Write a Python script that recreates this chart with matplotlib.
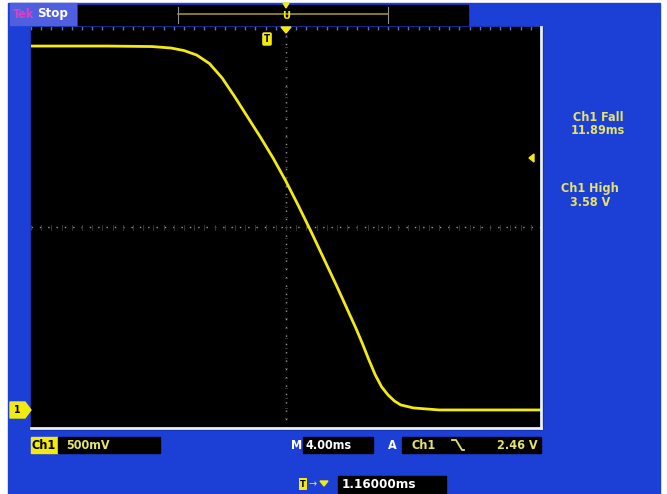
import numpy as np
import matplotlib
matplotlib.use("Agg")
import matplotlib.pyplot as plt
from matplotlib.patches import Rectangle, Polygon

# --- trace (time in ms relative to screen centre, volts) ---
t_ms = [-20.0, -14.0, -10.5, -9.0, -8.0, -7.0, -6.0, -5.0, -4.0, -3.0, -2.0,
        -1.0, 0.0, 1.0, 2.0, 3.0, 4.0, 5.0, 5.5, 6.0, 6.5, 7.0, 7.5, 8.0,
        8.5, 9.0, 10.0, 11.0, 12.0, 20.0]
volts = [3.63, 3.63, 3.625, 3.61, 3.585, 3.54, 3.455, 3.31, 3.12, 2.92, 2.72,
         2.51, 2.28, 2.03, 1.77, 1.50, 1.23, 0.95, 0.81, 0.66, 0.50, 0.35,
         0.23, 0.15, 0.09, 0.05, 0.02, 0.01, 0.0, 0.0]

v_per_div = 0.5
ms_per_div = 4.0
ground_div = 0.36          # ground marker height above bottom, in divisions
trig_level = 2.46

meas_labels = ["Ch1 Fall", "11.89ms", "Ch1 High", "3.58 V"]

BLUE = "#1c3fd6"
YEL = "#f2ea10"
TXT = "#e6e26a"

W, H = 667, 494
fig = plt.figure(figsize=(W / 100, H / 100), dpi=100, facecolor="white")

# background layer in pixel coords
bg = fig.add_axes([0, 0, 1, 1], zorder=0)
bg.set_xlim(0, W); bg.set_ylim(H, 0); bg.axis("off")
bg.add_patch(Rectangle((8, 3), 652, 491, color=BLUE))
bg.add_patch(Rectangle((10, 3), 66, 22, color="#4f5fe0"))      # Tek Stop tab
bg.add_patch(Rectangle((78, 5), 390, 20, color="black"))       # record bar
bg.add_patch(Rectangle((31, 27), 511, 402, color="black"))

# scope grid area
x0, y0, x1, y1 = 31, 27, 541, 428
ax = fig.add_axes([x0 / W, 1 - y1 / H, (x1 - x0) / W, (y1 - y0) / H], zorder=1)
ax.set_facecolor("black")
vmin = -ground_div * v_per_div
vmax = vmin + 8 * v_per_div
ax.set_xlim(-5 * ms_per_div, 5 * ms_per_div)
ax.set_ylim(vmin, vmax)
for s in ax.spines.values():
    s.set_visible(False)
ax.spines["right"].set_visible(True); ax.spines["right"].set_color("#e8f0ff")
ax.spines["bottom"].set_visible(True); ax.spines["bottom"].set_color("#e8f0ff")
ax.spines["right"].set_linewidth(2); ax.spines["bottom"].set_linewidth(2)
ax.set_xticks([]); ax.set_yticks([])

vmid = (vmin + vmax) / 2
ax.axhline(vmid, color="#9a9a9a", lw=1.0, ls=(0, (1, 5)))
ax.axvline(0, color="#9a9a9a", lw=1.0, ls=(0, (1, 5)))
# faint minor ticks along the centre cross
for k in range(-25, 26):
    xx = k * ms_per_div / 5
    ax.plot([xx, xx], [vmid - 0.025, vmid + 0.025], color="#3c3c3c", lw=0.6)
for k in range(-20, 21):
    yy = vmid + k * v_per_div / 5
    ax.plot([-0.1, 0.1], [yy, yy], color="#3c3c3c", lw=0.6)
# top edge dotted ticks
ax.plot(np.linspace(-20, 20, 51), [vmax - 0.01] * 51, ls="none", marker="|",
        ms=3, color="#6070b0")

ax.plot(t_ms, volts, color=YEL, lw=2.0, solid_capstyle="round",
        solid_joinstyle="round")

# foreground layer
fg = fig.add_axes([0, 0, 1, 1], zorder=2)
fg.set_xlim(0, W); fg.set_ylim(H, 0); fg.axis("off"); fg.patch.set_alpha(0)

fnt = dict(family="DejaVu Sans", fontweight="bold", fontstretch="condensed")

# top bar
fg.text(13, 14, "Tek", color="#e040c0", fontsize=9, va="center", **fnt)
fg.text(37, 14, "Stop", color="white", fontsize=9.5, va="center", **fnt)
fg.plot([178, 178], [7, 23], color="#909090", lw=0.8)
fg.plot([388, 388], [7, 23], color="#909090", lw=0.8)
fg.plot([178, 388], [14, 14], color="#a09020", lw=1.2)
fg.add_patch(Polygon([[283, 3], [289, 3], [286, 8]], color=YEL))
fg.text(286, 16, "U", color=YEL, fontsize=8, ha="center", va="center", **fnt)

# trigger position markers in the grid
fg.add_patch(Polygon([[281, 27], [291, 27], [286, 33]], color=YEL))
fg.text(267, 39, "T", color="black", fontsize=7, ha="center", va="center",
        bbox=dict(boxstyle="round,pad=0.18", fc=YEL, ec="none"), **fnt)

# trigger level marker on the right edge
fg.add_patch(Polygon([[529, 158], [534, 154], [534, 162]], color=YEL))

# channel 1 ground marker
gy = y1 - ground_div * 50
fg.add_patch(Polygon([[10, gy - 8], [25, gy - 8], [31, gy], [25, gy + 8],
                      [10, gy + 8]], color=YEL))
fg.text(17, gy, "1", color="black", fontsize=7.5, ha="center", va="center", **fnt)

# measurement readouts
fg.text(598, 117, meas_labels[0], color=TXT, fontsize=9, ha="center", va="center", **fnt)
fg.text(598, 130, meas_labels[1], color=TXT, fontsize=9, ha="center", va="center", **fnt)
fg.text(590, 188, meas_labels[2], color=TXT, fontsize=9, ha="center", va="center", **fnt)
fg.text(590, 202, meas_labels[3], color=TXT, fontsize=9, ha="center", va="center", **fnt)

# bottom readouts
fg.add_patch(Rectangle((31, 437), 27, 16, color=YEL))
fg.text(44, 445, "Ch1", color="black", fontsize=9, ha="center", va="center", **fnt)
fg.add_patch(Rectangle((58, 437), 102, 16, color="black"))
fg.text(66, 445, "%dmV" % (v_per_div * 1000), color=TXT, fontsize=9, va="center", **fnt)

fg.text(302, 445, "M", color="white", fontsize=9, ha="right", va="center", **fnt)
fg.add_patch(Rectangle((303, 437), 70, 16, color="black"))
fg.text(305, 445, "%.2fms" % ms_per_div, color="white", fontsize=9, va="center", **fnt)
fg.text(392, 445, "A", color="white", fontsize=9, ha="center", va="center", **fnt)
fg.add_patch(Rectangle((402, 437), 139, 16, color="black"))
fg.text(412, 445, "Ch1", color=TXT, fontsize=9, va="center", **fnt)
fg.plot([452, 456, 462, 464], [440, 440, 450, 450], color=TXT, lw=1.3)
fg.text(538, 445, "%.2f V" % trig_level, color=TXT, fontsize=9, ha="right", va="center", **fnt)

fg.text(303, 484, "T", color="black", fontsize=6.5, ha="center", va="center",
        bbox=dict(boxstyle="square,pad=0.12", fc=YEL, ec="none"), **fnt)
fg.text(313, 484, "\u2192", color=YEL, fontsize=7, ha="center", va="center")
fg.add_patch(Polygon([[320, 481], [328, 481], [324, 486]], color=YEL))
fg.add_patch(Rectangle((338, 476), 108, 17, color="black"))
fg.text(342, 484.5, "1.16000ms", color="white", fontsize=9.5, va="center", **fnt)

fig.savefig("out.png", dpi=100, facecolor="white")
